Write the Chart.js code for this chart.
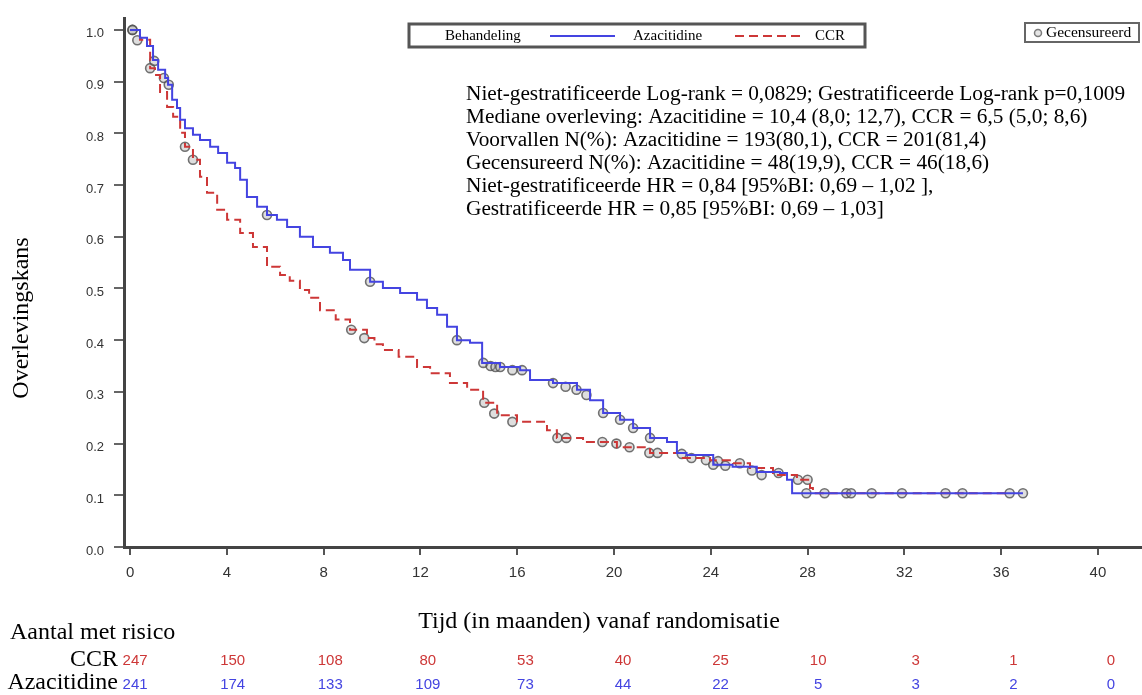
<!DOCTYPE html>
<html>
<head>
<meta charset="utf-8">
<script src="https://cdn.jsdelivr.net/npm/chart.js@4"></script>
<style>
  body { margin: 0; background: #fff; overflow: hidden; }
  #wrap { width: 1142px; height: 695px; position: relative; }
</style>
</head>
<body>
<div id="wrap"><canvas id="km-chart"></canvas></div>
<script>
// Kaplan-Meier: Azacitidine vs CCR

const azaTime = [0, 0.41, 0.70, 0.95, 1.16, 1.45, 1.57, 1.74, 1.94, 2.07, 2.27, 2.60, 2.89, 3.31, 3.64, 4.01, 4.34, 4.55, 4.83, 5.25, 5.66, 6.07, 6.49, 7.02, 7.56, 8.26, 8.80, 9.09, 9.92, 10.45, 11.16, 11.86, 12.27, 12.69, 13.1, 13.51, 14.05, 14.55, 15.29, 16.12, 16.53, 17.48, 18.47, 19.01, 19.55, 20.25, 20.79, 21.49, 22.19, 22.6, 23.0, 24.1, 24.9, 25.9, 26.86, 27.15, 27.36, 36.9];
const azaSurv = [1.0, 0.985, 0.969, 0.942, 0.923, 0.907, 0.894, 0.865, 0.849, 0.826, 0.810, 0.797, 0.787, 0.774, 0.762, 0.743, 0.733, 0.710, 0.677, 0.658, 0.642, 0.633, 0.619, 0.600, 0.580, 0.569, 0.555, 0.536, 0.513, 0.501, 0.491, 0.478, 0.462, 0.449, 0.426, 0.400, 0.395, 0.356, 0.348, 0.342, 0.323, 0.317, 0.304, 0.284, 0.259, 0.246, 0.230, 0.211, 0.203, 0.182, 0.178, 0.159, 0.155, 0.145, 0.143, 0.130, 0.104, 0.104];

const ccrTime = [0, 0.41, 0.83, 1.03, 1.24, 1.53, 1.78, 2.07, 2.27, 2.60, 2.89, 3.18, 3.60, 4.01, 4.55, 5.08, 5.66, 6.2, 6.6, 7.02, 7.4, 7.85, 8.5, 9.09, 9.79, 10.1, 10.45, 11.1, 11.86, 12.4, 13.22, 13.93, 14.59, 15.17, 15.99, 17.23, 17.64, 18.72, 20.12, 21.49, 22.85, 23.97, 24.92, 25.62, 26.57, 27.56, 28.1, 28.22, 36.35];
const ccrSurv = [1.0, 0.981, 0.926, 0.913, 0.880, 0.851, 0.832, 0.801, 0.774, 0.749, 0.716, 0.685, 0.652, 0.633, 0.607, 0.580, 0.542, 0.526, 0.515, 0.497, 0.482, 0.458, 0.440, 0.420, 0.404, 0.392, 0.381, 0.368, 0.348, 0.336, 0.317, 0.304, 0.279, 0.255, 0.242, 0.226, 0.211, 0.203, 0.193, 0.182, 0.172, 0.168, 0.162, 0.153, 0.139, 0.130, 0.114, 0.104, 0.104];

// censored observations
const azaCensTime = [0.1, 1.0, 1.4, 1.6, 5.66, 9.92, 13.51, 14.6, 14.9, 15.1, 15.3, 15.8, 16.2, 17.48, 18.0, 18.45, 18.86, 19.55, 20.25, 20.79, 21.49, 22.8, 24.1, 24.6, 25.7, 26.8, 27.95, 30.65, 34.4, 36.9];
const azaCensSurv = [1.0, 0.94, 0.907, 0.894, 0.642, 0.513, 0.400, 0.356, 0.350, 0.348, 0.348, 0.342, 0.342, 0.317, 0.310, 0.304, 0.294, 0.259, 0.246, 0.230, 0.211, 0.180, 0.159, 0.157, 0.148, 0.143, 0.104, 0.104, 0.104, 0.104];
const ccrCensTime = [0.1, 0.3, 0.83, 2.27, 2.60, 9.14, 9.68, 14.64, 15.05, 15.8, 17.66, 18.03, 19.52, 20.1, 20.64, 21.46, 21.8, 23.2, 23.8, 24.3, 25.2, 26.1, 27.6, 28.0, 28.7, 29.6, 29.8, 31.9, 33.7, 36.35];
const ccrCensSurv = [1.0, 0.98, 0.926, 0.774, 0.749, 0.420, 0.404, 0.279, 0.258, 0.242, 0.211, 0.211, 0.203, 0.200, 0.193, 0.182, 0.182, 0.172, 0.168, 0.166, 0.162, 0.139, 0.130, 0.130, 0.104, 0.104, 0.104, 0.104, 0.104, 0.104];

const xTicks = [0, 4, 8, 12, 16, 20, 24, 28, 32, 36, 40];
const yTicks = [0, 0.1, 0.2, 0.3, 0.4, 0.5, 0.6, 0.7, 0.8, 0.9, 1.0];

// aantal met risico
const riskTimes = [0, 4, 8, 12, 16, 20, 24, 28, 32, 36, 40];
const riskCCR = [247, 150, 108, 80, 53, 40, 25, 10, 3, 1, 0];
const riskAza = [241, 174, 133, 109, 73, 44, 22, 5, 3, 2, 0];

const statLines = [
  "Niet-gestratificeerde Log-rank = 0,0829; Gestratificeerde Log-rank p=0,1009",
  "Mediane overleving: Azacitidine = 10,4 (8,0; 12,7), CCR = 6,5 (5,0; 8,6)",
  "Voorvallen N(%): Azacitidine = 193(80,1), CCR = 201(81,4)",
  "Gecensureerd N(%): Azacitidine = 48(19,9), CCR = 46(18,6)",
  "Niet-gestratificeerde HR = 0,84 [95%BI: 0,69 \u2013 1,02 ],",
  "Gestratificeerde HR = 0,85 [95%BI: 0,69 \u2013 1,03]"
];

const BLUE = "rgb(68,68,225)";
const RED = "rgb(205,55,55)";
const SERIF = "'Liberation Serif', 'Times New Roman', serif";
const SANS = "'Liberation Sans', Arial, sans-serif";

const pts = (xs, ys) => xs.map((t, i) => ({ x: t, y: ys[i] }));

const censStyle = {
  type: 'line',
  showLine: false,
  pointStyle: 'circle',
  pointRadius: 4.5,
  pointBorderWidth: 1.6,
  pointBorderColor: 'rgba(80,80,80,0.8)',
  pointBackgroundColor: 'rgba(160,160,160,0.35)'
};

const decor = {
  id: 'decor',
  afterDraw(chart) {
    const ctx = chart.ctx;
    const xs = chart.scales.x;
    ctx.save();

    // legend box
    ctx.strokeStyle = '#555';
    ctx.lineWidth = 3;
    ctx.strokeRect(409, 24, 456, 23);
    ctx.fillStyle = '#000';
    ctx.font = "15px " + SERIF;
    ctx.textBaseline = 'middle';
    ctx.textAlign = 'left';
    ctx.fillText("Behandeling", 445, 36);
    ctx.fillText("Azacitidine", 633, 36);
    ctx.fillText("CCR", 815, 36);
    ctx.lineWidth = 2;
    ctx.strokeStyle = BLUE;
    ctx.beginPath(); ctx.moveTo(550, 36); ctx.lineTo(615, 36); ctx.stroke();
    ctx.strokeStyle = RED;
    ctx.setLineDash([9, 5]);
    ctx.beginPath(); ctx.moveTo(735, 36); ctx.lineTo(800, 36); ctx.stroke();
    ctx.setLineDash([]);

    // censored legend
    ctx.strokeStyle = '#666';
    ctx.lineWidth = 2;
    ctx.strokeRect(1025, 23, 114, 19);
    ctx.beginPath();
    ctx.arc(1038, 33, 3.5, 0, Math.PI * 2);
    ctx.fillStyle = 'rgba(170,170,170,0.3)';
    ctx.fill();
    ctx.strokeStyle = 'rgba(110,110,110,0.9)';
    ctx.lineWidth = 1.5;
    ctx.stroke();
    ctx.fillStyle = '#000';
    ctx.font = "15.5px " + SERIF;
    ctx.fillText("Gecensureerd", 1046, 33);

    // stats text
    ctx.font = "21.3px " + SERIF;
    statLines.forEach((s, i) => ctx.fillText(s, 466, 94 + i * 23));

    // axis titles
    ctx.textAlign = 'center';
    ctx.font = "24px " + SERIF;
    ctx.fillText("Tijd (in maanden) vanaf randomisatie", 599, 622);
    ctx.save();
    ctx.translate(22, 318);
    ctx.rotate(-Math.PI / 2);
    ctx.fillText("Overlevingskans", 0, 0);
    ctx.restore();

    // risk table
    ctx.textAlign = 'left';
    ctx.fillText("Aantal met risico", 10, 633);
    ctx.textAlign = 'right';
    ctx.fillText("CCR", 118, 660);
    ctx.fillText("Azacitidine", 118, 683);
    ctx.textAlign = 'center';
    ctx.font = "15px " + SANS;
    riskTimes.forEach((t, i) => {
      const px = xs.getPixelForValue(t) + 5 + t * 0.2;
      ctx.fillStyle = RED;
      ctx.fillText(String(riskCCR[i]), px, 661);
      ctx.fillStyle = BLUE;
      ctx.fillText(String(riskAza[i]), px, 685);
    });
    ctx.restore();
  }
};

new Chart(document.getElementById('km-chart'), {
  type: 'line',
  data: {
    datasets: [
      {
        label: 'Azacitidine',
        data: pts(azaTime, azaSurv),
        borderColor: BLUE,
        borderWidth: 2,
        stepped: 'before',
        pointRadius: 0
      },
      {
        label: 'CCR',
        data: pts(ccrTime, ccrSurv),
        borderColor: RED,
        borderWidth: 2,
        borderDash: [9, 5],
        stepped: 'before',
        pointRadius: 0
      },
      Object.assign({ label: 'Gecensureerd Aza', data: pts(azaCensTime, azaCensSurv) }, censStyle),
      Object.assign({ label: 'Gecensureerd CCR', data: pts(ccrCensTime, ccrCensSurv) }, censStyle)
    ]
  },
  options: {
    responsive: true,
    maintainAspectRatio: false,
    animation: false,
    layout: { autoPadding: false, padding: { top: 18, left: 0, right: 0, bottom: 0 } },
    plugins: {
      legend: { display: false },
      tooltip: { enabled: false }
    },
    scales: {
      x: {
        type: 'linear',
        min: -0.25,
        max: 41.82,
        afterBuildTicks: s => { s.ticks = xTicks.map(v => ({ value: v })); },
        afterFit: s => { s.height = 148; },
        border: { color: '#444', width: 3 },
        grid: { drawOnChartArea: false, drawTicks: true, tickLength: 8, lineWidth: 2, color: '#555' },
        ticks: { color: '#333', font: { family: SANS, size: 15 }, padding: 9, maxRotation: 0 }
      },
      y: {
        type: 'linear',
        min: 0,
        max: 1.023,
        afterBuildTicks: s => { s.ticks = yTicks.map(v => ({ value: v })); },
        afterFit: s => { s.width = 124; },
        border: { color: '#444', width: 3 },
        grid: { drawOnChartArea: false, drawTicks: true, tickLength: 10, lineWidth: 2, color: '#666' },
        ticks: { color: '#333', font: { family: SANS, size: 13 }, padding: 10, labelOffset: 4, callback: v => v.toFixed(1) }
      }
    }
  },
  plugins: [decor]
});
</script>
</body>
</html>
